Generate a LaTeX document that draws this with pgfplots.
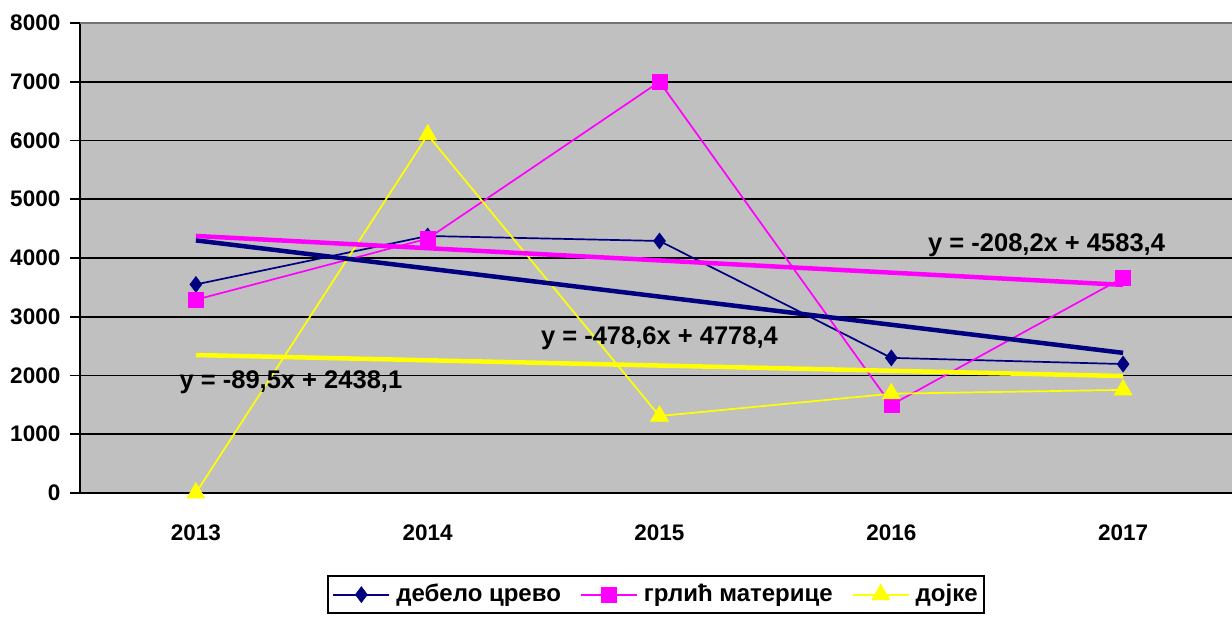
\documentclass[border=0pt]{standalone}
\usepackage{fontspec}
\setmainfont{Liberation Sans}
\usepackage{pgfplots}
\pgfplotsset{compat=1.18}
\definecolor{navyc}{HTML}{000080}
\definecolor{magc}{HTML}{FF00FF}
\definecolor{yelc}{HTML}{FFFF00}
\definecolor{bgc}{HTML}{C0C0C0}
\newcommand\ff{\fontsize{22.5}{26}\selectfont\bfseries}
\newcommand\fl{\fontsize{24}{28}\selectfont\bfseries}
\newcommand\fe{\fontsize{25.5}{30}\selectfont\bfseries}
\begin{document}
\ff
\begin{tikzpicture}[x=1pt,y=1pt]
\useasboundingbox (-80,-128) rectangle (1152,493);
\begin{axis}[
  at={(0,0)}, anchor=south west,
  scale only axis, width=1152pt, height=470pt,
  xmin=-0.5, xmax=4.47, ymin=0, ymax=8000,
  axis background/.style={fill=bgc},
  axis x line*=bottom, axis y line*=left,
  axis line style={black, line width=1.8pt},
  xtick={0,1,2,3,4}, xticklabels={2013,2014,2015,2016,2017},
  extra x ticks={0.5,1.5,2.5,3.5},
  extra x tick labels={},
  extra x tick style={major tick length=10pt, tick style={black, line width=1.8pt}},
  ytick={0,1000,...,8000},
  scaled y ticks=false,
  /pgf/number format/assume math mode=true,
  yticklabel={\pgfmathprintnumber[fixed,1000 sep={}]{\tick}},
  tick align=outside,
  major tick length=10pt,
  tick style={black, line width=1.8pt},
  xtick style={draw=none},
  ymajorgrids, major grid style={black, line width=1.8pt},
  every tick label/.append style={font=\ff},
  xticklabel style={yshift=-14pt},
  yticklabel style={xshift=-2pt},
  legend style={at={(0.5,-0.175)}, anchor=north, legend columns=3,
    draw=black, line width=1.8pt, font=\fl, inner xsep=4pt, inner ysep=6pt,
    /tikz/every odd column/.append style={column sep=4pt},
    /tikz/every even column/.append style={column sep=17pt}},
  legend image code/.code={\draw[line width=2pt, mark repeat=2,mark phase=2] plot coordinates {(0pt,0pt) (28pt,0pt) (56pt,0pt)};},
  clip=false,
]
\draw[gray!90!black, line width=2pt] (rel axis cs:0,1) -- (rel axis cs:1,1);
\addplot[navyc, line width=1.7pt, mark=diamond*, mark size=8pt, mark options={fill=navyc, draw=navyc, line width=0.5pt}]
  coordinates {(0,3550) (1,4375) (2,4290) (3,2300) (4,2195)};
\addlegendentry{дебело црево}
\addplot[magc, line width=1.7pt, mark=square*, mark size=7.5pt, mark options={fill=magc, draw=magc, line width=0.5pt}]
  coordinates {(0,3290) (1,4330) (2,7000) (3,1500) (4,3665)};
\addlegendentry{грлић материце}
\addplot[yelc, line width=1.7pt, mark=triangle*, mark size=10.5pt, mark options={fill=yelc, draw=yelc, line width=0.5pt}]
  coordinates {(0,0) (1,6095) (2,1310) (3,1690) (4,1755)};
\addlegendentry{дојке}
\addplot[navyc, line width=4.5pt, forget plot] coordinates {(0,4299.8) (4,2385.4)};
\addplot[magc, line width=4.5pt, forget plot] coordinates {(0,4375.2) (4,3542.4)};
\addplot[yelc, line width=4.5pt, forget plot] coordinates {(0,2348.6) (4,1990.6)};
\node[font=\fe] at (axis cs:3.67,4221) {y = -208,2x + 4583,4};
\node[font=\fe] at (axis cs:2.0,2638) {y = -478,6x + 4778,4};
\node[font=\fe] at (axis cs:0.41,1889) {y = -89,5x + 2438,1};
\end{axis}
\end{tikzpicture}
\end{document}
